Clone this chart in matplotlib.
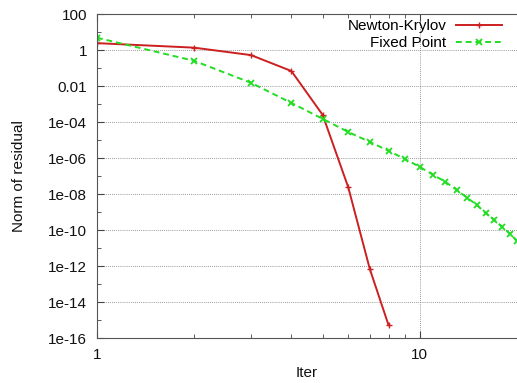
import matplotlib as mpl
mpl.use('Agg')
import matplotlib.pyplot as plt
import numpy as np

plt.rcParams['font.family'] = ['Liberation Sans', 'DejaVu Sans']

# Newton-Krylov residual per iteration
nk_iter = [1, 2, 3, 4, 5, 6, 7, 8]
nk_res = [2.4, 1.35, 0.52, 0.068, 2.5e-4, 2.4e-8, 6.8e-13, 5.2e-16]

# Fixed point residual per iteration
fp_iter = list(range(1, 21))
fp_res = [4.8, 0.25, 0.015, 1.15e-3, 1.5e-4, 2.8e-5, 7.8e-6, 2.5e-6,
          8.7e-7, 3.2e-7, 1.15e-7, 4.7e-8, 1.7e-8, 6.3e-9, 2.5e-9,
          8.7e-10, 3.6e-10, 1.5e-10, 6.3e-11, 2.5e-11]

ytick_vals = [1e2, 1, 1e-2, 1e-4, 1e-6, 1e-8, 1e-10, 1e-12, 1e-14, 1e-16]
ytick_labels = ['100', '1', '0.01', '1e-04', '1e-06', '1e-08', '1e-10',
                '1e-12', '1e-14', '1e-16']

fig = plt.figure(figsize=(5.17, 3.83), dpi=100)
ax = fig.add_axes([97/517, 45/383, 1 - 97/517, 324/383])

ax.plot(nk_iter, nk_res, color='#cc1f1f', lw=1.4, marker='+', ms=5,
        mew=1.0, label='Newton-Krylov')
ax.plot(fp_iter, fp_res, color='#22dd22', lw=1.4, ls=(0, (3, 2)),
        marker='x', ms=4.5, mew=1.3, label='Fixed Point')

ax.set_xscale('log')
ax.set_yscale('log')
ax.set_xlim(1, 19.6)
ax.set_ylim(1e-16, 100)

ax.set_xticks([1, 10])
ax.set_xticklabels(['1', '10'])
ax.set_xticks([2, 3, 4, 5, 6, 7, 8, 9, 20], minor=True)
ax.xaxis.set_minor_formatter(mpl.ticker.NullFormatter())
ax.set_yticks(ytick_vals)
ax.set_yticklabels(ytick_labels)
ax.set_yticks([10 ** k for k in range(-15, 2, 2)], minor=True)
ax.yaxis.set_minor_formatter(mpl.ticker.NullFormatter())

ax.tick_params(which='both', direction='in', top=True, right=False,
               labelsize=11, colors='#444444', labelcolor='#111111')
ax.tick_params(which='major', length=5, pad=7)
ax.tick_params(which='minor', length=3)

ax.grid(True, which='major', color='#777777', ls=(0, (1, 1.5)), lw=0.6)

for s in ['left', 'bottom', 'top']:
    ax.spines[s].set_color('#555555')
ax.spines['right'].set_visible(False)

ax.set_xlabel('Iter', fontsize=11, labelpad=3, color='#111111')
ax.set_ylabel('Norm of residual', fontsize=11, labelpad=16, color='#111111')

ax.legend(loc='upper right', bbox_to_anchor=(0.985, 1.013), frameon=False,
          markerfirst=False, fontsize=11, handlelength=3.0,
          handletextpad=0.6, labelspacing=0.2, borderaxespad=0.2)

plt.savefig('out.png', dpi=100)
